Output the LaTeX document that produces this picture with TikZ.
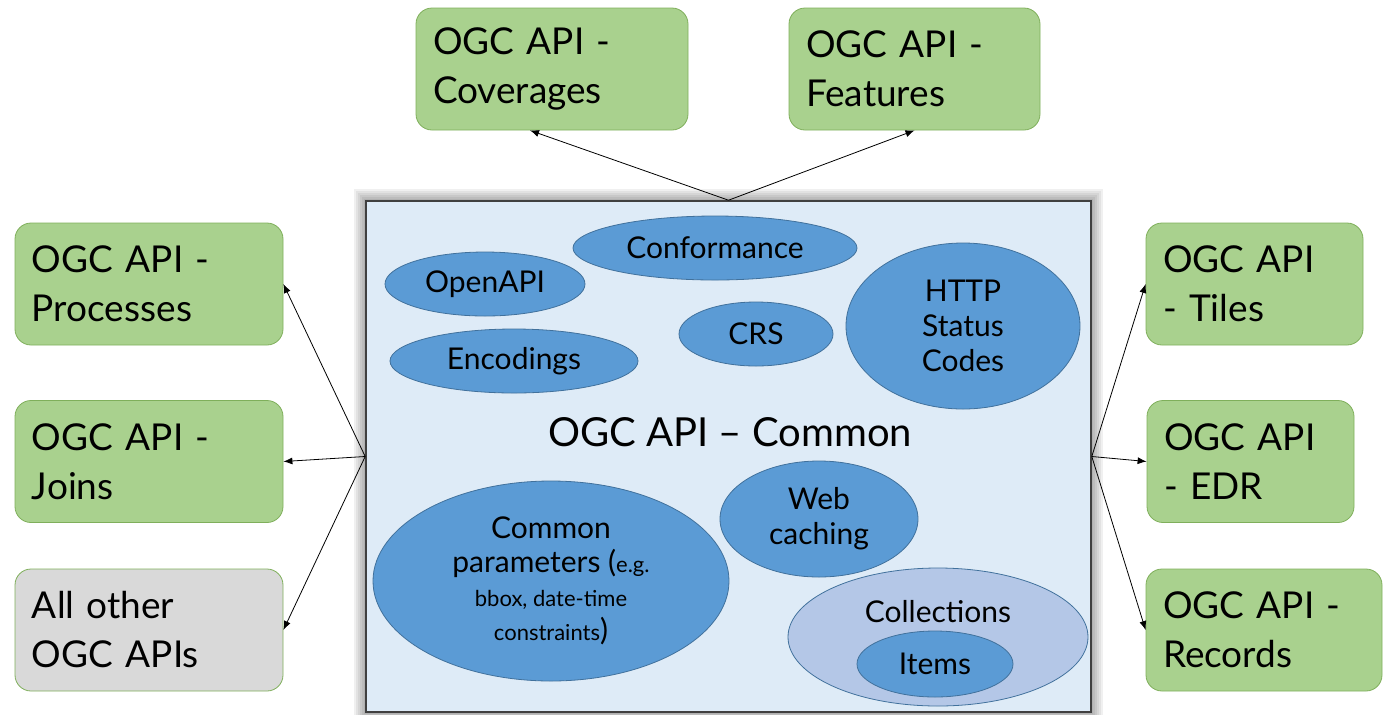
\documentclass[tikz,border=0pt]{standalone}
\usepackage{fontspec}
\setmainfont{Lato}
\usetikzlibrary{arrows.meta,shapes.geometric}
\definecolor{apigreen}{HTML}{A9D18E}
\definecolor{apiedge}{HTML}{7FAF5B}
\definecolor{othergray}{HTML}{D9D9D9}
\definecolor{commonfill}{HTML}{DEEBF7}
\definecolor{blobfill}{HTML}{5B9BD5}
\definecolor{blobedge}{HTML}{41719C}
\definecolor{collfill}{HTML}{B4C7E7}

\begin{document}
\begin{tikzpicture}[x=0.5pt,y=-0.5pt,
	apibox/.style={draw=apiedge, fill=apigreen, rounded corners=8pt, align=left,
		text width=#1, inner xsep=8.5pt, minimum height=61pt,
		font=\fontsize{18.5}{24.5}\selectfont},
	blob/.style={ellipse, draw=blobedge, fill=blobfill, inner sep=0pt, align=center,
		font=\fontsize{15}{17.5}\selectfont},
	arr/.style={-{Latex[length=4.5pt,width=3.5pt]}, line width=0.4pt}]
				\useasboundingbox (0,0) rectangle (1394,714);
				
				% soft shadow round the common box
				\foreach \d in {2,4,...,12}
					\fill[black, opacity=0.06] (366-\d,201-\d) rectangle (1091+\d,712+\d);
				\node[draw=black!75, fill=commonfill, line width=0.8pt, minimum width=362.5pt,
					minimum height=255.5pt, inner sep=0pt] (common) at (728.5,456.5) {};
				
				% the APIs built on it
				\node[apibox=119pt] (cov) at (552,69) {OGC API -\\Coverages};
				\node[apibox=108.5pt] (feat) at (914.5,69) {OGC API -\\Features};
				\node[apibox=117pt] (proc) at (149,284) {OGC API -\\Processes};
				\node[apibox=117pt] (joins) at (149,461.5) {OGC API -\\Joins};
				\node[apibox=117pt, fill=othergray] (other) at (149,630) {All other\\OGC APIs};
				\node[apibox=91.5pt] (tiles) at (1254.5,284) {OGC API\\- Tiles};
				\node[apibox=86.5pt] (edr) at (1250.5,461.5) {OGC API\\- EDR};
				\node[apibox=101pt] (rec) at (1264,630) {OGC API -\\Records};
				
				\draw[arr] (common.north) -- ([xshift=-11pt]cov.south);
				\draw[arr] (common.north) -- (feat.south);
				\draw[arr] (common.west) -- (proc.east);
				\draw[arr] (common.west) -- (joins.east);
				\draw[arr] (common.west) -- (other.east);
				\draw[arr] (common.east) -- (tiles.west);
				\draw[arr] (common.east) -- (edr.west);
				\draw[arr] (common.east) -- (rec.west);
				
				% building blocks inside
				\node[blob, minimum width=142pt, minimum height=32pt] (conf) at (715,248) {Conformance};
				\node[blob, minimum width=100pt, minimum height=32pt] (openapi) at (485,284) {OpenAPI};
				\node[blob, minimum width=77pt, minimum height=32pt] (crs) at (756,334) {CRS};
				\node[blob, minimum width=124pt, minimum height=32pt] (enc) at (514,361) {Encodings};
				\node[blob, minimum width=117pt, minimum height=83pt] (http) at (963,326) {HTTP\\Status\\Codes};
				\node[font=\fontsize{20}{24}\selectfont] (title) at (730,432) {OGC API – Common};
				\node[blob, minimum width=99pt, minimum height=58pt] (cache) at (819,519) {Web\\caching};
				\node[blob, minimum width=178pt, minimum height=100pt, font=\fontsize{15}{17}\selectfont] (params) at (551,581)
					{Common\\parameters ({\fontsize{11}{17}\selectfont e.g.}\\{\fontsize{11}{16}\selectfont bbox, date-time}\\{\fontsize{11}{16}\selectfont constraints})};
				\node[blob, fill=collfill, minimum width=150pt, minimum height=69pt] (coll) at (938,637) {};
				\node[font=\fontsize{15}{17.5}\selectfont] (colltext) at (938,612) {Collections};
				\node[blob, minimum width=78pt, minimum height=33pt] (items) at (935,664) {Items};
\end{tikzpicture}
\end{document}
